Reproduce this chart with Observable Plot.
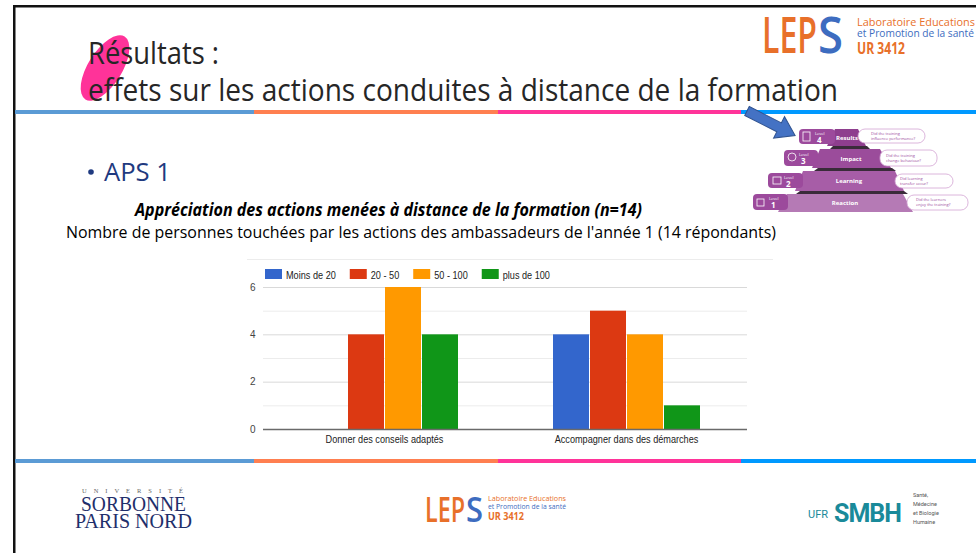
<!DOCTYPE html>
<html>
<head>
<meta charset="utf-8">
<script src="https://cdn.jsdelivr.net/npm/d3@7"></script>
<script src="https://cdn.jsdelivr.net/npm/@observablehq/plot@0.6"></script>
<style>
  html, body { margin: 0; padding: 0; background: #fff; }
  #page { position: relative; width: 976px; height: 553px; overflow: hidden; background: #fff; }
  #deco { position: absolute; left: 0; top: 0; }
  #chart { position: absolute; left: 240px; top: 280px; }
</style>
</head>
<body>
<div id="page">
<svg id="deco" width="976" height="553" xmlns="http://www.w3.org/2000/svg">
  <!-- slide frame -->
  <rect x="13" y="5" width="963" height="2.5" fill="#111"/>
  <rect x="13" y="5" width="2.5" height="548" fill="#111"/>
  <!-- top stripe -->
  <rect x="15" y="110" width="239" height="4" fill="#5b9bd5"/>
  <rect x="254" y="110" width="244" height="4" fill="#ff7f50"/>
  <rect x="498" y="110" width="243" height="4" fill="#ff3399"/>
  <rect x="741" y="110" width="235" height="4" fill="#0099ff"/>
  <!-- bottom stripe -->
  <rect x="15" y="459" width="239" height="4" fill="#5b9bd5"/>
  <rect x="254" y="459" width="244" height="4" fill="#ff7f50"/>
  <rect x="498" y="459" width="243" height="4" fill="#ff3399"/>
  <rect x="741" y="459" width="235" height="4" fill="#0099ff"/>
  <!-- pink blob behind title -->
  <ellipse cx="105" cy="68" rx="17" ry="37" transform="rotate(32 105 68)" fill="#ff3399"/>
  <!-- title -->
  <g font-family="'Open Sans', 'Noto Sans', sans-serif" fill="#262626" font-size="31">
    <text x="88" y="64" textLength="131" lengthAdjust="spacingAndGlyphs">Résultats :</text>
    <text x="88" y="101" textLength="750" lengthAdjust="spacingAndGlyphs">effets sur les actions conduites à distance de la formation</text>
  </g>
  <!-- top-right LEPS logo -->
  <g font-family="'Open Sans', 'Noto Sans', sans-serif">
    <text x="762" y="53" font-size="50" font-weight="600" fill="#e8702a" textLength="55" lengthAdjust="spacingAndGlyphs">LEP</text>
    <text x="818" y="53" font-size="50" font-weight="600" fill="#3d6cc0" textLength="25" lengthAdjust="spacingAndGlyphs">S</text>
    <text x="857" y="26" font-size="10.5" fill="#e8702a" textLength="118" lengthAdjust="spacingAndGlyphs">Laboratoire Educations</text>
    <text x="857" y="37" font-size="10.5" fill="#3d6cc0" textLength="117" lengthAdjust="spacingAndGlyphs">et Promotion de la santé</text>
    <text x="857" y="54" font-size="16" font-weight="bold" fill="#e8702a" textLength="48" lengthAdjust="spacingAndGlyphs">UR 3412</text>
  </g>
  <!-- Kirkpatrick pyramid -->
  <g font-family="'Open Sans', 'Noto Sans', sans-serif">
    <polygon points="833,146 867,146 870,149 830,149" fill="#3a2b3a"/>
    <polygon points="818,168 892,168 896,171 814,171" fill="#3a2b3a"/>
    <polygon points="800,191 904,191 908,194 796,194" fill="#3a2b3a"/>
    <polygon points="835,129 858,129 866,146 827,146" fill="#8e3e8e"/>
    <polygon points="820,149 880,149 891,168 812,168" fill="#9b4c9b"/>
    <polygon points="803,171 895,171 904,191 795,191" fill="#a75da7"/>
    <polygon points="787,194 903,194 913,212 778,212" fill="#b57ab5"/>
    <g fill="#fff" font-size="6" font-weight="bold" text-anchor="middle">
      <text x="847" y="140">Results</text>
      <text x="851" y="161">Impact</text>
      <text x="849" y="183">Learning</text>
      <text x="845" y="205">Reaction</text>
    </g>
    <g fill="#9c4a9c">
      <rect x="799" y="129" width="36" height="15" rx="4"/>
      <rect x="784" y="150" width="34" height="16" rx="4"/>
      <rect x="768" y="173" width="35" height="15" rx="4"/>
      <rect x="753" y="194" width="35" height="16" rx="4"/>
    </g>
    <g fill="#fff">
      <text x="815" y="135" font-size="4">Level</text><text x="817" y="143" font-size="8" font-weight="bold">4</text>
      <text x="799" y="156" font-size="4">Level</text><text x="801" y="164" font-size="8" font-weight="bold">3</text>
      <text x="784" y="179" font-size="4">Level</text><text x="786" y="187" font-size="8" font-weight="bold">2</text>
      <text x="769" y="200" font-size="4">Level</text><text x="771" y="208" font-size="8" font-weight="bold">1</text>
      <rect x="803" y="132" width="7" height="9" fill="none" stroke="#fff" stroke-width="0.8"/>
      <circle cx="792" cy="157" r="4" fill="none" stroke="#fff" stroke-width="0.8"/>
      <rect x="773" y="177" width="8" height="7" fill="none" stroke="#fff" stroke-width="0.8"/>
      <rect x="757" y="199" width="7" height="7" fill="none" stroke="#fff" stroke-width="0.8"/>
    </g>
    <g fill="#fff" stroke="#d3a3d3" stroke-width="0.8">
      <rect x="858" y="129" width="67" height="14" rx="7"/>
      <rect x="880" y="150" width="57" height="16" rx="7"/>
      <rect x="895" y="174" width="58" height="14" rx="7"/>
      <rect x="907" y="195" width="61" height="15" rx="7"/>
    </g>
    <g fill="#9c4a9c" font-size="4">
      <text x="871" y="135">Did the training</text><text x="871" y="140">influence performance?</text>
      <text x="886" y="157">Did the training</text><text x="886" y="162">change behaviour?</text>
      <text x="900" y="180">Did learning</text><text x="900" y="185">transfer occur?</text>
      <text x="916" y="201">Did the learners</text><text x="916" y="206">enjoy the training?</text>
    </g>
    <!-- blue arrow -->
    <polygon points="0,-5 36,-5 36,-12 54,0 36,12 36,5 0,5" transform="translate(747,111) rotate(27)" fill="#4472c4" stroke="#2f528f" stroke-width="1"/>
  </g>
  <!-- bullet -->
  <g font-family="'Open Sans', 'Noto Sans', sans-serif" fill="#1f3a80">
    <circle cx="91" cy="172" r="2.8"/>
    <text x="104" y="181" font-size="25" textLength="67" lengthAdjust="spacingAndGlyphs">APS 1</text>
  </g>
  <!-- chart titles -->
  <g font-family="'Open Sans', 'Noto Sans', sans-serif" fill="#000" font-size="17">
    <text x="135" y="216" font-weight="bold" font-style="italic" textLength="507" lengthAdjust="spacingAndGlyphs">Appréciation des actions menées à distance de la formation (n=14)</text>
    <text x="66" y="238" textLength="710" lengthAdjust="spacingAndGlyphs">Nombre de personnes touchées par les actions des ambassadeurs de l'année 1  (14 répondants)</text>
  </g>
  <line x1="247" x2="773" y1="259.5" y2="259.5" stroke="#ececec"/>
  <!-- bottom logos -->
  <g font-family="'Liberation Serif', serif">
    <text x="82" y="493" font-size="6.5" fill="#666" textLength="101" lengthAdjust="spacing">UNIVERSITÉ</text>
    <text x="81" y="511" font-size="21" fill="#1f2f6b" textLength="105" lengthAdjust="spacingAndGlyphs">SORBONNE</text>
    <text x="75" y="528" font-size="21" fill="#1f2f6b" textLength="117" lengthAdjust="spacingAndGlyphs">PARIS NORD</text>
  </g>
  <g font-family="'Open Sans', 'Noto Sans', sans-serif">
    <text x="425" y="522" font-size="34" font-weight="600" fill="#e8702a" textLength="40" lengthAdjust="spacingAndGlyphs">LEP</text>
    <text x="466" y="522" font-size="34" font-weight="600" fill="#3d6cc0" textLength="17" lengthAdjust="spacingAndGlyphs">S</text>
    <text x="488" y="501" font-size="6.5" fill="#e8702a" textLength="78" lengthAdjust="spacingAndGlyphs">Laboratoire Educations</text>
    <text x="488" y="509" font-size="6.5" fill="#3d6cc0" textLength="78" lengthAdjust="spacingAndGlyphs">et Promotion de la santé</text>
    <text x="488" y="520" font-size="10" font-weight="bold" fill="#e8702a" textLength="36" lengthAdjust="spacingAndGlyphs">UR 3412</text>
  </g>
  <g font-family="'Roboto', 'Open Sans', sans-serif">
    <text x="808" y="518" font-size="11" fill="#1a8a9a" textLength="20" lengthAdjust="spacingAndGlyphs">UFR</text>
    <text x="834" y="522" font-size="25" font-weight="bold" fill="#1a8a9a" textLength="68" lengthAdjust="spacing">SMBH</text>
    <g font-size="5.5" fill="#555">
      <text x="913" y="497">Santé,</text>
      <text x="913" y="506">Médecine</text>
      <text x="913" y="515">et Biologie</text>
      <text x="913" y="524">Humaine</text>
    </g>
  </g>
  <g id="legend"></g>
</svg>
<div id="chart"></div>
</div>
<script>
// ---- data ----
const categories = ["Donner des conseils adaptés", "Accompagner dans des démarches"];
const series = ["Moins de 20", "20 - 50", "50 - 100", "plus de 100"];
const conseilsValues = [0, 4, 6, 4];
const demarchesValues = [4, 5, 4, 1];
const yTickLabels = [0, 2, 4, 6];
const minorGrid = [1, 3, 5];

// ---- styles ----
const palette = ["#3366cc", "#dc3912", "#ff9900", "#109618"];
const chartFont = "'Liberation Sans', Arial, sans-serif";
const squeeze = 0.87;

const valuesByCategory = [conseilsValues, demarchesValues];
const rows = categories.flatMap((c, i) =>
  series.map((s, j) => ({category: c, series: s, value: valuesByCategory[i][j]})));

const chart = Plot.plot({
  width: 540,
  height: 175,
  marginLeft: 23,
  marginRight: 33,
  marginTop: 7,
  marginBottom: 26,
  style: {fontFamily: chartFont, background: "transparent", overflow: "visible"},
  x: {domain: series, paddingInner: 0.03, paddingOuter: 1.285, axis: null},
  fx: {domain: categories, padding: 0, label: null},
  y: {domain: [0, 6], label: null},
  color: {domain: series, range: palette},
  marks: [
    Plot.gridY(minorGrid, {stroke: "#ececec", strokeOpacity: 1}),
    Plot.gridY(yTickLabels.filter(d => d > 0), {stroke: "#d9d9d9", strokeOpacity: 1}),
    Plot.barY(rows, {x: "series", y: "value", fx: "category", fill: "series"}),
    Plot.ruleY([0], {stroke: "#6a6a6a", strokeWidth: 1.6}),
    Plot.axisY(yTickLabels, {tickSize: 0, tickPadding: 8, fontSize: 10, fill: "#444", label: null, facetAnchor: "left"}),
    Plot.axisFx({anchor: "bottom", tickSize: 0, tickPadding: 6, fontSize: 10.5, fill: "#222", label: null})
  ]
});
document.getElementById("chart").appendChild(chart);

// horizontally compress category labels like the source image
d3.select(chart).selectAll("g[aria-label='fx-axis tick label'] text").each(function () {
  const w = this.getComputedTextLength();
  this.setAttribute("textLength", (w * squeeze).toFixed(1));
  this.setAttribute("lengthAdjust", "spacingAndGlyphs");
});

// ---- legend (built from series + palette) ----
const legend = d3.select("#legend")
  .attr("font-family", chartFont)
  .attr("font-size", 10.5)
  .attr("fill", "#222");
let lx = 265;
series.forEach((s, i) => {
  legend.append("rect").attr("x", lx).attr("y", 269).attr("width", 17).attr("height", 10).attr("fill", palette[i]);
  const t = legend.append("text").attr("x", lx + 21).attr("y", 278.5).text(s);
  const w = t.node().getComputedTextLength() * squeeze;
  t.attr("textLength", w.toFixed(1)).attr("lengthAdjust", "spacingAndGlyphs");
  lx += 21 + w + 14;
});
</script>
</body>
</html>
